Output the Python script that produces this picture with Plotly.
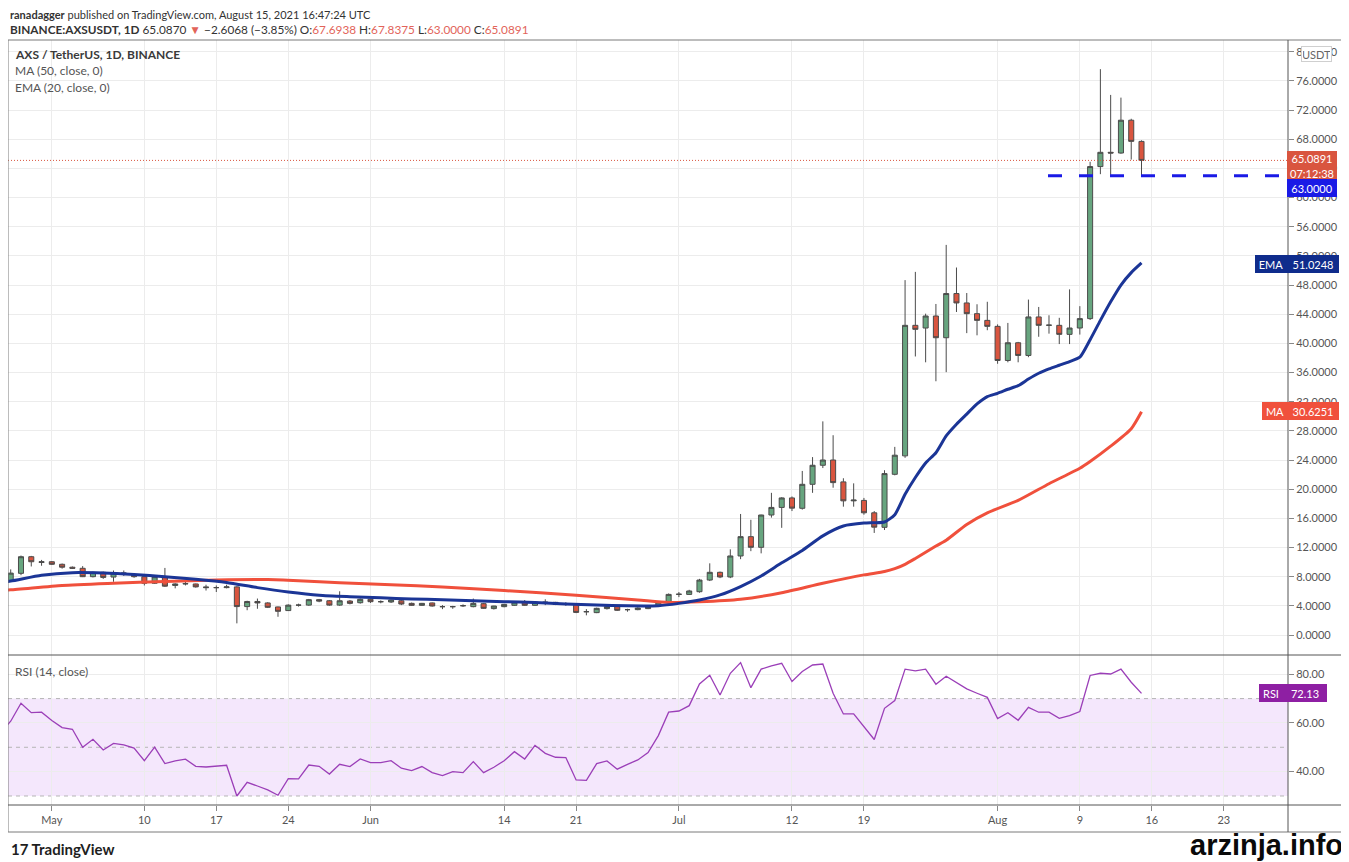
import plotly.graph_objects as go
from plotly.subplots import make_subplots
import pandas as pd

# ---- data (AXS/USDT daily, Apr 27 - Aug 15 2021) ----
dates = pd.date_range("2021-04-27", "2021-08-15", freq="D")

opens = [7.48, 8.46, 10.74, 9.95, 10.05, 9.7, 9.3, 9.15, 8.0, 8.6,
         7.95, 8.45, 8.3, 8.0, 7.1, 7.9, 6.8, 7.0, 7.0, 6.6,
         6.5, 6.5, 6.6, 3.9, 4.6, 4.4, 3.85, 3.35, 4.1, 4.1,
         4.85, 4.7, 4.1, 4.66, 4.43, 4.9, 4.57, 4.53, 4.7, 4.34,
         4.07, 4.4, 3.89, 3.89, 4.0, 3.89, 4.3, 3.62, 3.89, 4.07,
         4.52, 4.07, 4.48, 4.48, 4.25, 4.2, 3.2, 3.07, 3.62, 3.89,
         3.48, 3.48, 3.62, 3.98, 4.52, 5.57, 5.57, 5.94, 7.54, 8.6,
         7.96, 10.84, 13.49, 12.03, 16.46, 17.5, 18.8, 17.38, 20.67, 23.28,
         24.0, 21.0, 18.4, 18.46, 16.76, 14.77, 22.04, 24.57, 42.47, 42.1,
         43.75, 40.77, 46.83, 45.54, 44.07, 43.15, 42.33, 37.65, 40.08, 38.34,
         43.62, 42.47, 42.47, 41.23, 42.1, 43.39, 64.24, 66.2, 66.1, 70.6,
         67.6938]
highs = [9.0, 10.9, 10.85, 10.3, 10.15, 9.8, 9.4, 9.45, 8.7, 8.7,
         8.85, 8.85, 8.4, 8.05, 8.1, 9.2, 7.1, 7.3, 7.05, 6.9,
         6.8, 6.9, 6.7, 4.7, 5.0, 4.5, 3.9, 4.2, 4.3, 4.95,
         4.95, 4.8, 6.0, 4.8, 5.0, 5.0, 4.75, 4.85, 4.8, 4.45,
         4.4, 4.45, 4.1, 4.0, 4.2, 5.0, 4.4, 4.0, 4.25, 4.6,
         4.8, 4.6, 4.9, 4.55, 4.5, 4.35, 3.55, 3.75, 4.0, 4.0,
         3.6, 3.8, 3.95, 4.65, 5.7, 5.9, 6.2, 7.7, 9.83, 8.7,
         11.75, 16.6, 15.8, 16.5, 19.5, 18.9, 19.0, 22.5, 24.4, 29.3,
         27.4, 21.5, 20.8, 18.8, 17.0, 22.6, 25.8, 48.67, 49.8, 44.07,
         45.4, 53.5, 50.4, 46.9, 45.36, 45.7, 42.6, 42.8, 40.2, 46.0,
         44.99, 43.85, 43.5, 47.4, 45.1, 64.9, 77.6, 74.07, 73.7, 70.8,
         67.8375]
lows = [7.3, 8.2, 9.4, 9.5, 9.6, 9.1, 9.05, 7.95, 7.9, 7.7,
        7.3, 8.1, 7.85, 6.8, 7.0, 6.6, 6.4, 6.8, 6.5, 6.1,
        5.9, 6.4, 1.6, 3.4, 3.6, 3.7, 2.5, 3.3, 3.9, 4.0,
        4.5, 4.0, 4.0, 4.2, 4.3, 4.4, 4.35, 4.4, 4.1, 4.0,
        4.0, 3.9, 3.55, 3.6, 3.85, 3.8, 3.6, 3.5, 3.8, 4.0,
        4.0, 4.0, 4.1, 4.1, 4.0, 3.0, 2.7, 3.0, 3.5, 3.3,
        3.2, 3.4, 3.55, 3.9, 4.5, 5.2, 5.5, 5.8, 7.4, 7.8,
        7.8, 10.4, 11.5, 11.2, 16.1, 14.7, 17.0, 17.2, 19.5, 22.9,
        20.2, 17.6, 17.6, 16.5, 14.0, 14.4, 21.9, 24.3, 38.2, 37.4,
        34.8, 36.05, 44.3, 41.4, 41.1, 41.8, 37.2, 37.4, 37.4, 38.1,
        40.9, 41.33, 39.9, 39.9, 41.2, 43.2, 63.2, 63.1, 66.0, 65.2,
        63.0]
closes = [8.49, 10.74, 10.05, 10.05, 9.7, 9.3, 9.15, 8.0, 8.6, 7.9,
          8.5, 8.5, 8.0, 7.1, 8.0, 6.7, 7.0, 7.05, 6.6, 6.5,
          6.5, 6.6, 3.9, 4.6, 4.4, 3.8, 3.25, 4.1, 4.1, 4.85,
          4.65, 4.1, 4.7, 4.34, 4.9, 4.57, 4.57, 4.8, 4.25, 4.07,
          4.34, 3.98, 3.89, 3.89, 4.03, 4.34, 3.66, 3.98, 4.2, 4.52,
          4.07, 4.52, 4.5, 4.2, 4.25, 3.1, 3.2, 3.66, 3.89, 3.39,
          3.48, 3.7, 3.84, 4.52, 5.57, 5.6, 6.04, 7.54, 8.6, 7.96,
          10.84, 13.49, 12.03, 16.46, 17.5, 18.8, 17.4, 20.67, 23.28, 24.0,
          20.9, 18.4, 18.5, 16.76, 14.79, 22.14, 24.66, 42.47, 41.92, 43.75,
          40.77, 46.83, 45.54, 44.07, 43.15, 42.33, 37.65, 40.08, 38.34, 43.62,
          42.47, 42.5, 41.23, 42.1, 43.39, 64.24, 66.2, 66.1, 70.6, 67.7,
          65.0891]

ema_dates = ["2021-04-26", "2021-04-27", "2021-04-30", "2021-05-03", "2021-05-06",
             "2021-05-09", "2021-05-12", "2021-05-15", "2021-05-18", "2021-05-21",
             "2021-05-24", "2021-05-27", "2021-05-30", "2021-06-02", "2021-06-05",
             "2021-06-08", "2021-06-11", "2021-06-14", "2021-06-17", "2021-06-20",
             "2021-06-23", "2021-06-26", "2021-06-29", "2021-07-01", "2021-07-03",
             "2021-07-05", "2021-07-07", "2021-07-09", "2021-07-11", "2021-07-13",
             "2021-07-15", "2021-07-17", "2021-07-19", "2021-07-20", "2021-07-21",
             "2021-07-22", "2021-07-23", "2021-07-24", "2021-07-25", "2021-07-26",
             "2021-07-27", "2021-07-28", "2021-07-29", "2021-07-30", "2021-07-31",
             "2021-08-01", "2021-08-02", "2021-08-03", "2021-08-04", "2021-08-05",
             "2021-08-06", "2021-08-07", "2021-08-08", "2021-08-09", "2021-08-10",
             "2021-08-11", "2021-08-12", "2021-08-13", "2021-08-14", "2021-08-15"]
ema_values = [7.25, 7.4, 8.2, 8.55, 8.5, 8.3, 8.0, 7.65, 7.2, 6.5,
              5.9, 5.45, 5.25, 5.1, 4.95, 4.85, 4.7, 4.57, 4.45, 4.25,
              4.1, 4.0, 4.02, 4.34, 4.8, 5.5, 6.65, 8.1, 9.9, 11.6,
              13.6, 14.95, 15.35, 15.4, 15.5, 16.5, 19.3, 21.6, 23.6, 25.0,
              27.3, 28.9, 30.3, 31.7, 32.7, 33.15, 33.7, 34.2, 35.1, 35.9,
              36.5, 37.0, 37.5, 38.1, 40.5, 43.15, 45.7, 48.0, 49.7, 51.0248]

ma_dates = ["2021-04-26", "2021-04-27", "2021-05-02", "2021-05-07", "2021-05-12",
            "2021-05-17", "2021-05-22", "2021-05-25", "2021-05-29", "2021-06-03",
            "2021-06-08", "2021-06-14", "2021-06-21", "2021-06-27", "2021-06-30",
            "2021-07-03", "2021-07-07", "2021-07-11", "2021-07-15", "2021-07-19",
            "2021-07-21", "2021-07-22", "2021-07-23", "2021-07-24", "2021-07-26",
            "2021-07-27", "2021-07-29", "2021-07-31", "2021-08-03", "2021-08-06",
            "2021-08-09", "2021-08-10", "2021-08-12", "2021-08-14", "2021-08-15"]
ma_values = [6.15, 6.2, 6.8, 7.1, 7.35, 7.55, 7.6, 7.45, 7.18, 6.9,
             6.6, 6.1, 5.45, 4.8, 4.45, 4.55, 4.9, 5.8, 7.1, 8.25,
             8.7, 9.1, 9.7, 10.5, 12.2, 13.0, 15.16, 16.76, 18.46, 20.75,
             22.87, 23.8, 25.9, 28.3, 30.6251]

rsi_dates = pd.date_range("2021-04-26", "2021-08-15", freq="D")
rsi_values = [56.0, 60.7, 68.1, 64.2, 64.4, 61.0, 58.1, 57.4, 50.0, 53.3, 48.9,
              51.6, 51.0, 49.7, 44.5, 50.1, 43.3, 44.4, 45.1, 42.2, 41.9,
              42.1, 42.6, 30.0, 35.6, 34.1, 32.5, 30.3, 37.1, 37.0, 42.7,
              42.2, 39.0, 43.0, 42.1, 45.2, 43.7, 43.7, 44.5, 41.4, 40.4,
              42.1, 39.6, 38.4, 40.0, 39.6, 44.1, 39.6, 41.8, 44.5, 48.2,
              45.2, 50.8, 47.5, 45.9, 45.8, 36.6, 36.4, 43.3, 44.4, 41.0,
              43.0, 44.8, 47.8, 54.8, 64.4, 64.9, 67.1, 76.0, 79.6, 71.5,
              80.4, 84.8, 74.5, 82.1, 83.4, 84.5, 77.0, 81.1, 83.8, 84.2,
              72.2, 63.7, 63.7, 58.5, 53.2, 66.0, 69.2, 82.1, 81.4, 82.1,
              75.9, 79.2, 76.7, 74.0, 72.2, 70.5, 61.8, 64.2, 61.1, 66.4,
              64.4, 64.4, 61.9, 63.0, 64.7, 79.5, 80.4, 80.1, 82.1, 76.7,
              72.13]

tick_dates = ["2021-05-01", "2021-05-10", "2021-05-17", "2021-05-24", "2021-06-01",
              "2021-06-14", "2021-06-21", "2021-07-01", "2021-07-12", "2021-07-19",
              "2021-08-01", "2021-08-09", "2021-08-16", "2021-08-23"]
tick_text = ["May", "10", "17", "24", "Jun", "14", "21", "Jul", "12", "19",
             "Aug", "9", "16", "23"]

last_price = 65.0891
support = 63.0

# ---- geometry: page pixels of the reference; the html body adds an 8px margin ----
OFF = 8
W, H = 1349 - OFF, 862 - OFF
L, R, T, B = 8, 1288, 40, 805          # plot area in page pixels
FRAME_R, FRAME_B, PANE_SPLIT = 1346, 832, 655


def px(x):
    return (x - L) / (R - L)


def py(y):
    return (B - y) / (B - T)


FONT = "Lato"
GREEN = "#67a57f"
RED = "#d9553f"
EMA_C = "#1b3596"
MA_C = "#f0503c"
RSI_C = "#9b3fb8"

fig = make_subplots(rows=2, cols=1, shared_xaxes=True, vertical_spacing=0,
                    row_heights=[PANE_SPLIT - T, B - PANE_SPLIT])

fig.add_trace(go.Candlestick(
    x=dates, open=opens, high=highs, low=lows, close=closes,
    increasing=dict(fillcolor=GREEN, line=dict(color="#4b4b4b", width=1)),
    decreasing=dict(fillcolor=RED, line=dict(color="#4b4b4b", width=1)),
    whiskerwidth=0, showlegend=False, hoverinfo="skip"
), row=1, col=1)

fig.add_trace(go.Scatter(x=ma_dates, y=ma_values, mode="lines",
                         line=dict(color=MA_C, width=3, shape="spline", smoothing=0.6),
                         showlegend=False, hoverinfo="skip"), row=1, col=1)
fig.add_trace(go.Scatter(x=ema_dates, y=ema_values, mode="lines",
                         line=dict(color=EMA_C, width=3, shape="spline", smoothing=0.6),
                         showlegend=False, hoverinfo="skip"), row=1, col=1)

fig.add_trace(go.Scatter(x=rsi_dates, y=rsi_values, mode="lines",
                         line=dict(color=RSI_C, width=1.3),
                         showlegend=False, hoverinfo="skip"), row=2, col=1)

x_range = ["2021-04-26 17:40", "2021-08-29 06:00"]
grid_c = "#ececec"

fig.update_xaxes(range=x_range, tickvals=tick_dates, ticktext=tick_text,
                 showgrid=True, gridcolor=grid_c, gridwidth=1, zeroline=False,
                 rangeslider_visible=False, showline=False)
fig.update_xaxes(showticklabels=False, ticks="", row=1, col=1)
fig.update_xaxes(ticks="outside", ticklen=5, tickcolor="#888",
                 tickfont=dict(family=FONT, size=11, color="#555"), row=2, col=1)

fig.update_yaxes(side="right", range=[-2.74, 81.6], tick0=0, dtick=4, tickformat=".4f",
                 showgrid=True, gridcolor=grid_c, zeroline=False,
                 ticks="outside", ticklen=5, tickcolor="#888",
                 tickfont=dict(family=FONT, size=11, color="#555"), row=1, col=1)
fig.update_yaxes(side="right", range=[26.3, 87.9], tickvals=[40, 60, 80], tickformat=".2f",
                 showgrid=True, gridcolor=grid_c, zeroline=False,
                 ticks="outside", ticklen=5, tickcolor="#888",
                 tickfont=dict(family=FONT, size=11, color="#555"), row=2, col=1)

shapes = []
# RSI band and level lines
shapes.append(dict(type="rect", xref="x2 domain", yref="y2", x0=0, x1=1, y0=30, y1=70,
                   fillcolor="#f4e7fc", line=dict(width=0), layer="below"))
for lvl in (70, 50, 30):
    shapes.append(dict(type="line", xref="x2 domain", yref="y2", x0=0, x1=1, y0=lvl, y1=lvl,
                       line=dict(color="#b5b5b5", width=1, dash="4px,4px"), layer="below"))
# last price dotted line and support dashes
shapes.append(dict(type="line", xref="paper", yref="y", x0=0, x1=1, y0=last_price, y1=last_price,
                   line=dict(color=RED, width=1, dash="1px,2px")))
shapes.append(dict(type="line", xref="paper", yref="y", x0=px(1048), x1=1, y0=support, y1=support,
                   line=dict(color="#1a1ae6", width=3, dash="14px,17px")))
# frame and separators
shapes.append(dict(type="rect", xref="paper", yref="paper", x0=px(L), x1=px(FRAME_R),
                   y0=py(FRAME_B), y1=py(T), line=dict(color="#7a7a7a", width=1)))
shapes.append(dict(type="line", xref="paper", yref="paper", x0=px(L), x1=px(FRAME_R),
                   y0=py(PANE_SPLIT), y1=py(PANE_SPLIT), line=dict(color="#555", width=1)))
shapes.append(dict(type="line", xref="paper", yref="paper", x0=px(L), x1=px(FRAME_R),
                   y0=py(B), y1=py(B), line=dict(color="#555", width=1)))
shapes.append(dict(type="line", xref="paper", yref="paper", x0=1, x1=1,
                   y0=py(FRAME_B), y1=py(T), line=dict(color="#555", width=1)))

ann = []


def text(x, y, s, size=12, color="#333", anchor="left", family=FONT):
    ann.append(dict(xref="paper", yref="paper", x=px(x), y=py(y), text=s,
                    showarrow=False, xanchor=anchor, yanchor="middle",
                    font=dict(family=family, size=size, color=color)))


def box(xc, yc, s, bg, w, h=14, fg="white", border=None):
    ann.append(dict(xref="paper", yref="paper", x=px(xc), y=py(yc), text=s, showarrow=False,
                    xanchor="center", yanchor="middle", width=w, height=h, bgcolor=bg,
                    bordercolor=border or bg, borderwidth=1, borderpad=1,
                    font=dict(family=FONT, size=11, color=fg)))


red_span = "<span style='color:#e2645a'>{}</span>"
text(8, 15, "<b>ranadagger</b> published on TradingView.com, August 15, 2021 16:47:24 UTC", size=11)
text(8, 29, "<b>BINANCE:AXSUSDT, 1D</b> 65.0870 " + red_span.format("▼") + " −2.6068 (−3.85%) O:" +
     red_span.format("67.6938") + " H:" + red_span.format("67.8375") + " L:" +
     red_span.format("63.0000") + " C:" + red_span.format("65.0891"), size=11.8)
text(13, 54, "<b>AXS / TetherUS, 1D, BINANCE</b>", size=12, color="#3a3a3a")
text(13, 71, "MA (50, close, 0)", size=12, color="#555")
text(13, 87, "EMA (20, close, 0)", size=12, color="#555")
text(13, 671, "RSI (14, close)", size=12, color="#555")

box(1316, 54, "USDT", "white", 27, h=12, fg="#666", border="#cfcfcf")
box(1312, 166, "65.0891<br>07:12:38", RED, 46, h=26)
box(1312, 188, "63.0000", "#1a1ae6", 46)
box(1271, 264, "EMA", "#0f2c8c", 28)
box(1313, 264, "51.0248", "#0f2c8c", 48)
box(1275, 411, "MA", MA_C, 22)
box(1313, 411, "30.6251", MA_C, 48)
box(1271, 693, "RSI", "#8e1fa3", 20)
box(1305, 693, "72.13", "#8e1fa3", 40)

text(9, 849, "<b>17 TradingView</b>", size=15, color="#1e1e1e")
text(1345, 845, "<b>arzinja.info</b>", size=29, color="#0a0a0a", anchor="right",
     family="Liberation Sans")

fig.update_layout(width=W, height=H,
                  margin=dict(l=L - OFF, r=(W + OFF) - R, t=T - OFF, b=(H + OFF) - B),
                  paper_bgcolor="white", plot_bgcolor="white", shapes=shapes,
                  annotations=ann, showlegend=False, hovermode=False,
                  font=dict(family=FONT))

fig.write_html("out.html")
